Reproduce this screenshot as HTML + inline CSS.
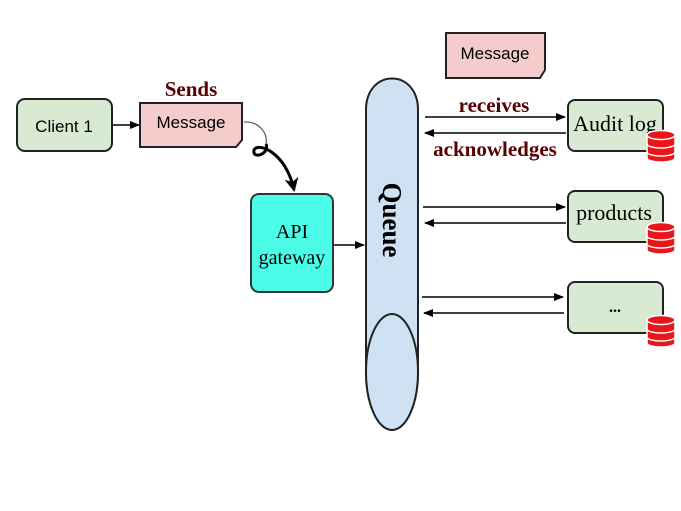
<!DOCTYPE html>
<html><head><style>body{margin:0;background:#fff}</style></head><body>
<svg width="681" height="506" xmlns="http://www.w3.org/2000/svg" font-family="Liberation Serif, serif">
<defs>
<marker id="a" markerWidth="10" markerHeight="8" refX="9" refY="4" orient="auto" markerUnits="userSpaceOnUse"><path d="M0,0 L10,4 L0,8 z" fill="#000"/></marker>
<marker id="b" markerWidth="16" markerHeight="14" refX="12" refY="7" orient="auto" markerUnits="userSpaceOnUse"><path d="M0,0 L14,7 L0,14 L4,7 z" fill="#000"/></marker>
<g id="db"><g fill="#e8161b" stroke="#fff" stroke-width="1.5">
<path d="M0,22 v6 a14,4 0 0 0 28,0 v-6"/><path d="M0,14 v8 a14,4 0 0 0 28,0 v-8"/><path d="M0,6 v8 a14,4 0 0 0 28,0 v-8"/><ellipse cx="14" cy="5" rx="14" ry="4.5"/></g></g>
</defs>
<!-- Client -->
<rect x="17" y="99" width="95" height="52" rx="8" fill="#d9ead3" stroke="#222" stroke-width="2"/>
<text x="64" y="132" font-family="Liberation Sans, sans-serif" font-size="17" text-anchor="middle">Client 1</text>
<line x1="113" y1="125" x2="139" y2="125" stroke="#000" stroke-width="1.5" marker-end="url(#a)"/>
<!-- Message 1 -->
<path d="M140,103 H242 V140 L236,147 H140 Z" fill="#f4cccc" stroke="#222" stroke-width="2"/>
<text x="191" y="128" font-family="Liberation Sans, sans-serif" font-size="17" text-anchor="middle">Message</text>
<text x="191" y="96" font-size="21" font-weight="bold" fill="#5a0000" text-anchor="middle">Sends</text>
<path d="M266,144 C270,154 252,160 254,150 C258,142 286,152 294,190" fill="none" stroke="#000" stroke-width="3" marker-end="url(#b)"/>
<path d="M244,122 C258,121 268,132 266,144" fill="none" stroke="#555" stroke-width="1.2"/>
<!-- API -->
<rect x="251" y="194" width="82" height="98" rx="8" fill="#4bfce9" stroke="#333" stroke-width="2"/>
<text x="292" y="238" font-size="20" text-anchor="middle">API</text>
<text x="292" y="264" font-size="20" text-anchor="middle">gateway</text>
<line x1="334" y1="245" x2="364" y2="245" stroke="#000" stroke-width="1.5" marker-end="url(#a)"/>
<!-- Queue -->
<path d="M366,372 V110 C366,68 418,68 418,110 V372 A26,58 0 0 1 366,372 Z" fill="#cfe2f3" stroke="#222" stroke-width="2"/>
<ellipse cx="392" cy="372" rx="26" ry="58" fill="#cfe2f3" stroke="#222" stroke-width="2"/>
<text transform="translate(383,220) rotate(90)" font-size="27" font-weight="bold" text-anchor="middle">Queue</text>
<!-- Message 2 -->
<path d="M446,33 H545 V70 L540,78 H446 Z" fill="#f4cccc" stroke="#222" stroke-width="2"/>
<text x="495" y="59" font-family="Liberation Sans, sans-serif" font-size="17" text-anchor="middle">Message</text>
<!-- arrows -->
<g stroke="#000" stroke-width="1.5">
<line x1="425" y1="117" x2="565" y2="117" marker-end="url(#a)"/>
<line x1="566" y1="133" x2="425" y2="133" marker-end="url(#a)"/>
<line x1="423" y1="207" x2="565" y2="207" marker-end="url(#a)"/>
<line x1="566" y1="223" x2="425" y2="223" marker-end="url(#a)"/>
<line x1="422" y1="297" x2="563" y2="297" marker-end="url(#a)"/>
<line x1="564" y1="313" x2="424" y2="313" marker-end="url(#a)"/>
</g>
<text x="494" y="112" font-size="21" font-weight="bold" fill="#5a0000" text-anchor="middle">receives</text>
<text x="495" y="156" font-size="21" font-weight="bold" fill="#5a0000" text-anchor="middle">acknowledges</text>
<!-- services -->
<rect x="568" y="100" width="95" height="51" rx="7" fill="#d9ead3" stroke="#222" stroke-width="2"/>
<text x="615" y="131" font-size="22" text-anchor="middle">Audit log</text>
<use href="#db" x="647" y="130"/>
<rect x="568" y="191" width="95" height="51" rx="7" fill="#d9ead3" stroke="#222" stroke-width="2"/>
<text x="614" y="220" font-size="22" text-anchor="middle">products</text>
<use href="#db" x="647" y="222"/>
<rect x="568" y="282" width="95" height="51" rx="7" fill="#d9ead3" stroke="#222" stroke-width="2"/>
<text x="615" y="312" font-size="16" font-weight="bold" text-anchor="middle">...</text>
<use href="#db" x="647" y="315"/>
</svg>
</body></html>
